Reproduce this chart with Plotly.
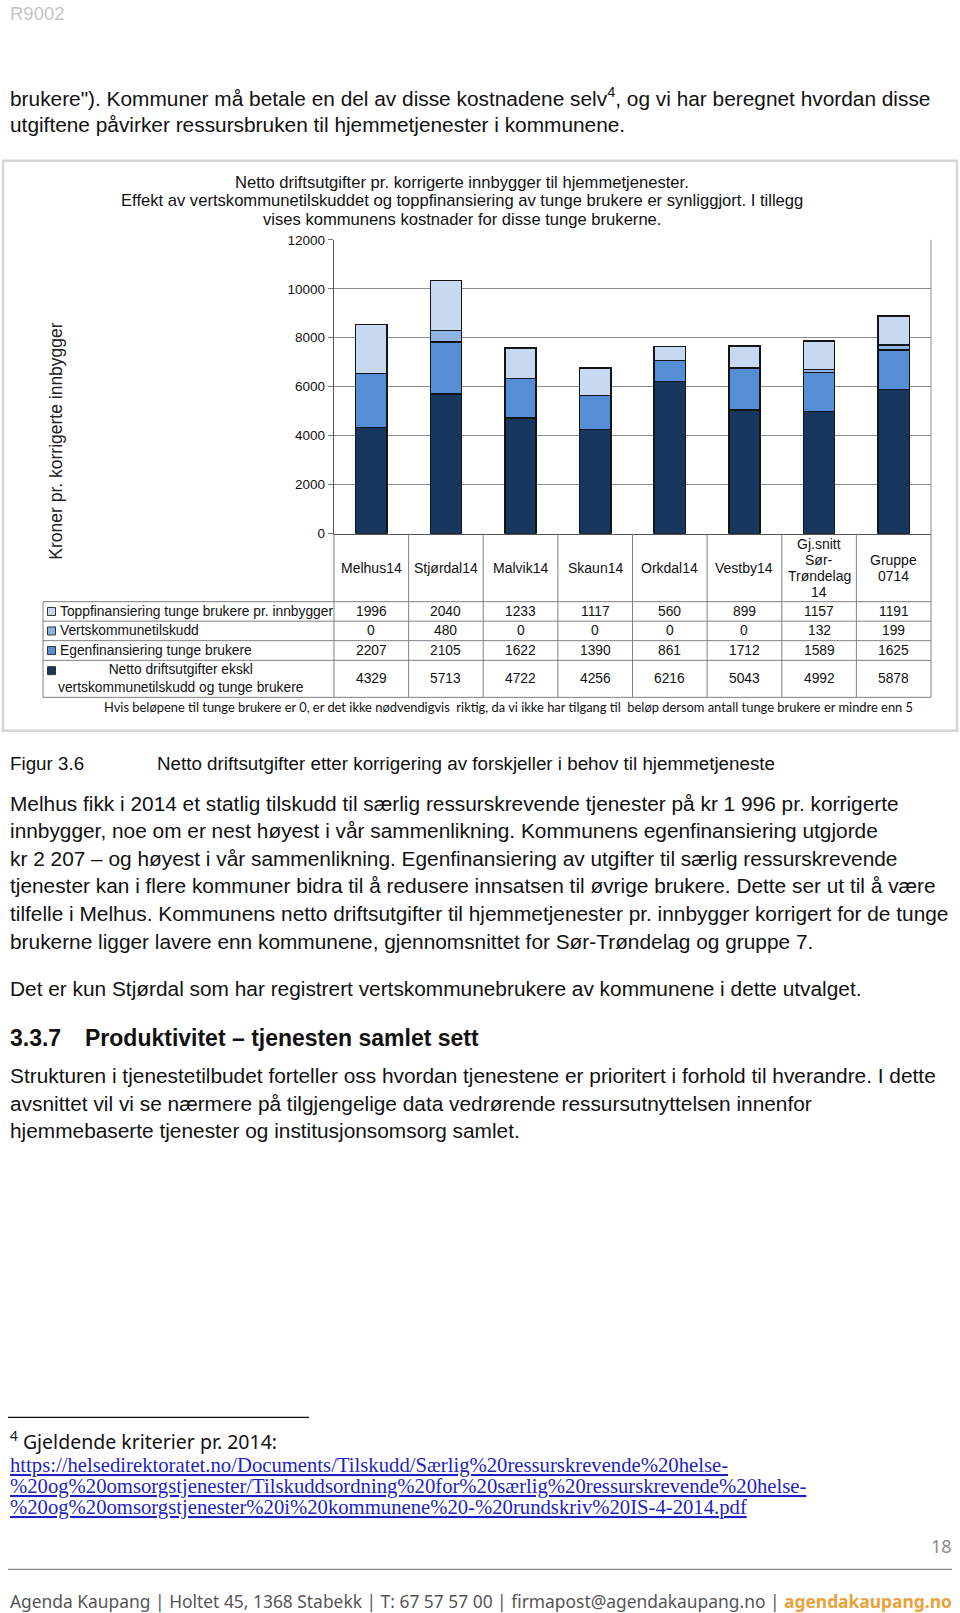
import plotly.graph_objects as go

W, H = 960, 1613

# ---------------- data ----------------
categories = ["Melhus14", "Stjørdal14", "Malvik14", "Skaun14", "Orkdal14",
              "Vestby14", "Gj.snitt Sør-Trøndelag 14", "Gruppe 0714"]
category_labels = ["Melhus14", "Stjørdal14", "Malvik14", "Skaun14", "Orkdal14",
                   "Vestby14", "Gj.snitt<br>Sør-<br>Trøndelag<br>14", "Gruppe<br>0714"]
netto = [4329, 5713, 4722, 4256, 6216, 5043, 4992, 5878]
egen = [2207, 2105, 1622, 1390, 861, 1712, 1589, 1625]
verts = [0, 480, 0, 0, 0, 0, 132, 199]
topp = [1996, 2040, 1233, 1117, 560, 899, 1157, 1191]
y_ticks = [0, 2000, 4000, 6000, 8000, 10000, 12000]

series_names = ["Netto driftsutgifter ekskl vertskommunetilskudd og tunge brukere",
                "Egenfinansiering tunge brukere",
                "Vertskommunetilskudd",
                "Toppfinansiering tunge brukere pr. innbygger"]
series_values = [netto, egen, verts, topp]
series_colors = ["#17375e", "#558ed5", "#8eb4e3", "#c6d9f1"]

# ---------------- helpers ----------------
# vertical mapping compensates the page offset/scale seen in the rendered screenshot
V_SCALE, V_OFF = 0.991, 7.15

def py(y):
    return 1 - ((y - V_OFF) / V_SCALE) / H

def px(x):
    return x / W

AX_L, AX_R = 334, 931
Y0, Y12 = 534, 240

fig = go.Figure()
for name, vals, col in zip(series_names, series_values, series_colors):
    fig.add_trace(go.Bar(x=categories, y=vals, name=name, width=0.42,
                         marker=dict(color=col, line=dict(color="#141414", width=1.5)),
                         showlegend=False))

fig.update_layout(
    width=W, height=H, barmode="stack",
    margin=dict(l=0, r=0, t=0, b=0),
    paper_bgcolor="white", plot_bgcolor="white",
    font=dict(family="Liberation Sans, Arial", color="#111"),
    xaxis=dict(domain=[px(AX_L), px(AX_R)], type="category", categoryorder="array",
               categoryarray=categories, range=[-0.5, len(categories) - 0.5],
               showticklabels=False, showline=True, linecolor="#555", linewidth=1.2,
               showgrid=False, ticks="", fixedrange=True),
    yaxis=dict(domain=[py(Y0), py(Y12)], range=[0, 12000], tickvals=y_ticks,
               tickformat="d",
               tickfont=dict(size=13.5, color="#111", family="Liberation Sans, Arial"),
               showgrid=True, gridcolor="#8c8c8c", gridwidth=1, zeroline=False,
               showline=True, linecolor="#555", linewidth=1.2,
               ticks="outside", ticklen=5, tickcolor="#777", fixedrange=True),
)

shapes = []
annotations = []

def hline(x0, x1, y, color="#808080", width=1):
    shapes.append(dict(type="line", xref="paper", yref="paper", x0=px(x0), x1=px(x1),
                       y0=py(y), y1=py(y), line=dict(color=color, width=width)))

def vline(x, y0, y1, color="#808080", width=1, xref="paper"):
    xx = px(x) if xref == "paper" else x
    shapes.append(dict(type="line", xref=xref, yref="paper", x0=xx, x1=xx,
                       y0=py(y0), y1=py(y1), line=dict(color=color, width=width)))

def text(t, x, y, size, color="#111", family="Liberation Sans, Arial", xanchor="left",
         align="left", xref="paper"):
    annotations.append(dict(text=t, x=(px(x) if xref == "paper" else x), y=py(y),
                            xref=xref, yref="paper", xanchor=xanchor, yanchor="middle",
                            align=align, showarrow=False,
                            font=dict(size=size, color=color, family=family)))

# chart frame
shapes.append(dict(type="rect", xref="paper", yref="paper", x0=px(3), x1=px(957),
                   y0=py(731), y1=py(161), line=dict(color="#d6d6d6", width=2.5)))
# plot area right border
vline(AX_R, Y12, Y0, color="#8c8c8c")

# data table grid
row_lines = [602, 621.5, 641, 660.7, 697.7]
for y in row_lines:
    hline(43, AX_R, y)
vline(43, 602, 697.7)
vline(AX_L, Y0, 697.7)
vline(AX_R, Y0, 697.7)
for i in range(len(categories) - 1):
    vline(i + 0.5, Y0, 697.7, xref="x")

# category header labels (one annotation per line, tight line spacing)
for c, lab in zip(categories, category_labels):
    parts = lab.split("<br>")
    n = len(parts)
    for j, part in enumerate(parts):
        text(part, c, 568 + (j - (n - 1) / 2) * 16, 14, xanchor="center",
             align="center", xref="x")

# table rows (top to bottom)
row_series = [3, 2, 1, 0]
row_centers = [611.8, 631.3, 650.9, 679.2]
legend_labels = ["Toppfinansiering tunge brukere pr. innbygger",
                 "Vertskommunetilskudd",
                 "Egenfinansiering tunge brukere",
                 "Netto driftsutgifter ekskl<br>vertskommunetilskudd og tunge brukere"]
for k, (si, yc) in enumerate(zip(row_series, row_centers)):
    my = yc if k < 3 else 671
    shapes.append(dict(type="rect", xref="paper", yref="paper", x0=px(47.5), x1=px(55.5),
                       y0=py(my + 4), y1=py(my - 4),
                       fillcolor=series_colors[si], line=dict(color="#333", width=1)))
    if k < 3:
        text(legend_labels[k], 58, yc, 13.8)
    else:
        text(legend_labels[k], 181, yc, 13.8, xanchor="center", align="center")
    for c, v in zip(categories, series_values[si]):
        text(str(v), c, yc, 13.8, xanchor="center", align="center", xref="x")

text("Hvis beløpene til tunge brukere er 0, er det ikke nødvendigvis  riktig, da vi ikke har tilgang til  beløp dersom antall tunge brukere er mindre enn 5",
     509, 707, 12.9, family="Lato, Open Sans", xanchor="center", align="center")

# chart title and y-axis title
title_lines = ["Netto driftsutgifter pr. korrigerte innbygger til hjemmetjenester.",
               "Effekt av vertskommunetilskuddet og toppfinansiering av tunge brukere er synliggjort. I tillegg",
               "vises kommunens kostnader for disse tunge brukerne."]
for i, ln in enumerate(title_lines):
    text(ln, 462, 182.6 + i * 18.5, 16.6, xanchor="center", align="center")
annotations.append(dict(text="Kroner pr. korrigerte innbygger", x=px(56), y=py(441),
                        xref="paper", yref="paper", textangle=-90, showarrow=False,
                        xanchor="center", yanchor="middle",
                        font=dict(size=17.5, color="#222", family="Liberation Sans, Arial")))

# ---------------- page text ----------------
BODY = 20.85
text("R9002", 8, 14, 18.5, color="#c4c4c4")
text("brukere\"). Kommuner må betale en del av disse kostnadene selv<sup>4</sup>, og vi har beregnet hvordan disse",
     8, 97, BODY)
text("utgiftene påvirker ressursbruken til hjemmetjenester i kommunene.", 8, 125, BODY)

text("Figur 3.6", 8, 763.5, 18.8)
text("Netto driftsutgifter etter korrigering av forskjeller i behov til hjemmetjeneste", 155, 763.5, 18.8)

body_lines = [
    "Melhus fikk i 2014 et statlig tilskudd til særlig ressurskrevende tjenester på kr 1 996 pr. korrigerte",
    "innbygger, noe om er nest høyest i vår sammenlikning. Kommunens egenfinansiering utgjorde",
    "kr 2 207 – og høyest i vår sammenlikning. Egenfinansiering av utgifter til særlig ressurskrevende",
    "tjenester kan i flere kommuner bidra til å redusere innsatsen til øvrige brukere. Dette ser ut til å være",
    "tilfelle i Melhus. Kommunens netto driftsutgifter til hjemmetjenester pr. innbygger korrigert for de tunge",
    "brukerne ligger lavere enn kommunene, gjennomsnittet for Sør-Trøndelag og gruppe 7.",
]
for i, ln in enumerate(body_lines):
    text(ln, 8, 803.6 + i * 27.6, BODY)

text("Det er kun Stjørdal som har registrert vertskommunebrukere av kommunene i dette utvalget.", 8, 989, BODY)

text("<b>3.3.7</b>", 8, 1038.5, 23)
text("<b>Produktivitet – tjenesten samlet sett</b>", 83, 1038.5, 23)

para2 = [
    "Strukturen i tjenestetilbudet forteller oss hvordan tjenestene er prioritert i forhold til hverandre. I dette",
    "avsnittet vil vi se nærmere på tilgjengelige data vedrørende ressursutnyttelsen innenfor",
    "hjemmebaserte tjenester og institusjonsomsorg samlet.",
]
for i, ln in enumerate(para2):
    text(ln, 8, 1076 + i * 27.6, BODY)

# footnote
hline(8, 309, 1418, color="#111", width=1.2)
text("<sup>4</sup> Gjeldende kriterier pr. 2014:", 8, 1441, 19.5, family="Noto Sans, Lato")
url_lines = [
    "https://helsedirektoratet.no/Documents/Tilskudd/Særlig%20ressurskrevende%20helse-",
    "%20og%20omsorgstjenester/Tilskuddsordning%20for%20særlig%20ressurskrevende%20helse-",
    "%20og%20omsorgstjenester%20i%20kommunene%20-%20rundskriv%20IS-4-2014.pdf",
]
for i, ln in enumerate(url_lines):
    text("<u>" + ln + "</u>", 8, 1466.5 + i * 20.8, 20.7, color="#1f1fc4",
         family="Liberation Serif, Times New Roman")

# page footer
text("18", 954, 1547, 18, color="#8a8a8a", family="Noto Sans, Lato", xanchor="right")
hline(8, 952, 1570, color="#8a8a8a", width=1.2)
text("Agenda Kaupang | Holtet 45, 1368 Stabekk | T: 67 57 57 00 | firmapost@agendakaupang.no | "
     "<b><span style='color:#e9a23b'>agendakaupang.no</span></b>",
     8, 1602, 17.4, color="#555", family="Noto Sans, Lato")

fig.update_layout(shapes=shapes, annotations=annotations)
fig.write_html(
    "out.html",
    config={"displayModeBar": False, "staticPlot": True},
    post_script=("document.documentElement.style.margin='0';"
                 "document.documentElement.style.padding='0';"
                 "document.body.style.margin='0';"
                 "document.body.style.padding='0';"
                 "document.body.style.overflow='hidden';"),
)
